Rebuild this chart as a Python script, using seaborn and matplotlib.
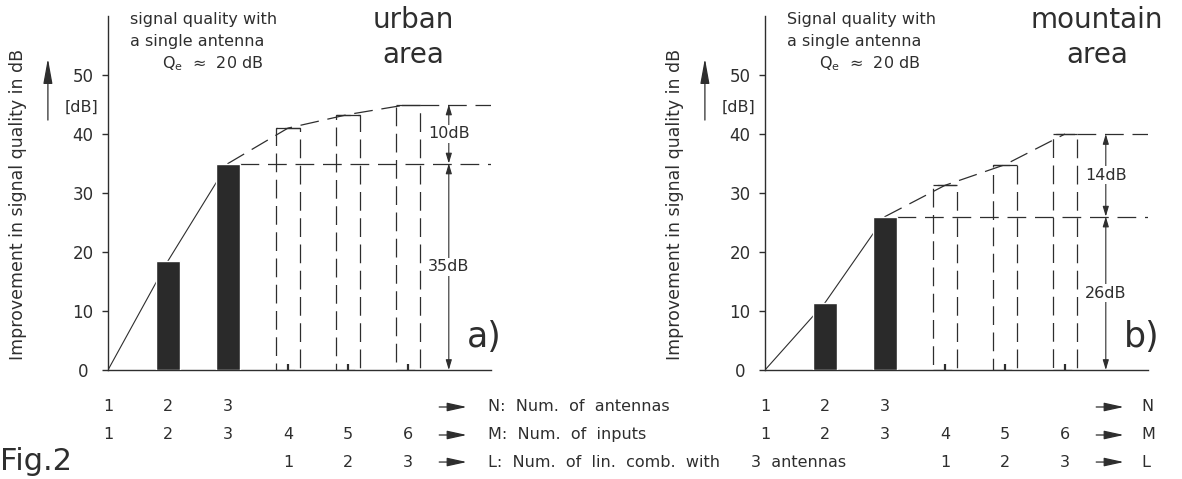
import matplotlib
matplotlib.use("Agg")
import matplotlib.pyplot as plt
import matplotlib.transforms as mtransforms
import numpy as np
import seaborn as sns

# ---------------- data ----------------
n_antennas = [1, 2, 3]            # N: number of antennas
m_inputs = [1, 2, 3, 4, 5, 6]     # M: number of inputs
l_lincomb = [1, 2, 3]             # L: number of linear combinations with 3 antennas
y_ticks = [0, 10, 20, 30, 40, 50]

single_antenna_db = 0.0                 # M = 1 (reference)
urban_antenna_db = [18.5, 35.0]         # M = 2, 3
urban_lincomb_db = [41.0, 43.3, 45.0]   # M = 4, 5, 6
mountain_antenna_db = [11.4, 26.0]      # M = 2, 3
mountain_lincomb_db = [31.3, 34.8, 40.0]  # M = 4, 5, 6

panel_titles = [("urban", "area"), ("mountain", "area")]
panel_tags = ["a)", "b)"]
note_first_line = ["signal quality with", "Signal quality with"]
note_second_line = "a single antenna"
note_third_line = r"Q$_{\rm e}$  ≈  20 dB"
y_label = "Improvement in signal quality in dB"
row_texts = ["N:  Num.  of  antennas", "M:  Num.  of  inputs", "L:  Num.  of  lin.  comb.  with"]
row_letters = ["N", "M", "L"]

# ---------------- style ----------------
INK = "#2e2e2e"
sns.set_theme(style="white")
plt.rcParams["font.family"] = ["DejaVu Sans"]
plt.rcParams["text.color"] = INK
plt.rcParams["axes.edgecolor"] = INK
plt.rcParams["xtick.color"] = INK
plt.rcParams["ytick.color"] = INK
plt.rcParams["axes.labelcolor"] = INK

W, H = 1182, 479
fig = plt.figure(figsize=(W / 100, H / 100), dpi=100)
X_END = 7.38
UNIT = 60.0
BAR_W = 0.4
DIM_X = 6.68
ROW_Y = [-0.1045, -0.1836, -0.260]
FS = 11.5


def make_axes(x0px):
    return fig.add_axes([x0px / W, (H - 370) / H, (X_END - 1) * UNIT / W, 354 / H])


def draw_panel(ax, ant_db, lin_db, idx):
    m_ant = m_inputs[1:3]
    m_lin = m_inputs[3:]
    top_meas = ant_db[-1]
    top_lin = lin_db[-1]

    # solid growth line through the measured values
    sns.lineplot(x=[m_inputs[0]] + m_ant, y=[single_antenna_db] + ant_db, ax=ax,
                 color=INK, lw=0.8, zorder=1)
    # dashed envelope through the linear-combination values
    sns.lineplot(x=[m_ant[-1]] + m_lin, y=[top_meas] + lin_db, ax=ax,
                 color=INK, lw=0.9, linestyle=(0, (15, 7)), zorder=1)

    # filled bars (N antennas)
    sns.barplot(x=m_ant, y=ant_db, native_scale=True, width=BAR_W, color="#2a2a2a",
                saturation=1, errorbar=None, ax=ax, zorder=3)
    # dashed bars (linear combinations)
    sns.barplot(x=m_lin, y=lin_db, native_scale=True, width=BAR_W, fill=False,
                color=INK, errorbar=None, ax=ax, linewidth=0.9,
                linestyle=(0, (15, 6)), zorder=2)
    ax.hlines(lin_db, np.array(m_lin) - BAR_W / 2, np.array(m_lin) + BAR_W / 2,
              color=INK, lw=0.9, zorder=2)

    # horizontal dashed reference levels
    ax.hlines([top_meas], m_ant[-1] + BAR_W / 2, X_END, color=INK, lw=0.9,
              linestyle=(0, (15, 7)), zorder=1)
    ax.hlines([top_lin], m_lin[-1] + BAR_W / 2, X_END, color=INK, lw=0.9,
              linestyle=(0, (15, 7)), zorder=1)

    # dimension arrows
    akw = dict(arrowstyle="<|-|>,head_length=0.5,head_width=0.15", mutation_scale=12,
               lw=0.8, color=INK, shrinkA=0, shrinkB=0)
    ax.annotate("", xy=(DIM_X, 0), xytext=(DIM_X, top_meas), arrowprops=akw)
    ax.annotate("", xy=(DIM_X, top_meas), xytext=(DIM_X, top_lin), arrowprops=akw)
    box = dict(fc="white", ec="none", pad=1.0)
    ax.text(DIM_X, top_meas / 2, f"{top_meas:.0f}dB", ha="center", va="center",
            fontsize=FS, bbox=box, zorder=5)
    ax.text(DIM_X, (top_meas + top_lin) / 2, f"{top_lin - top_meas:.0f}dB", ha="center",
            va="center", fontsize=FS, bbox=box, zorder=5)

    # axes formatting
    ax.set_xlim(1, X_END)
    ax.set_ylim(0, 60)
    ax.set_yticks(y_ticks)
    ax.set_yticklabels([str(t) for t in y_ticks])
    ax.set_xticks(m_lin)
    ax.set_xticklabels([])
    ax.set_xlabel("")
    ax.set_ylabel("")
    ax.tick_params(axis="x", direction="in", length=4, width=1.6, bottom=True)
    ax.tick_params(axis="y", direction="out", length=4, width=1, pad=14,
                   labelsize=12, left=True)
    for lab in ax.get_yticklabels():
        lab.set_ha("center")
    for s in ["top", "right"]:
        ax.spines[s].set_visible(False)
    for s in ["left", "bottom"]:
        ax.spines[s].set_linewidth(1.0)
        ax.spines[s].set_color(INK)

    # y label with arrow and unit
    ax.text(-0.235, 0.4675, y_label, transform=ax.transAxes, rotation=90,
            ha="center", va="center", fontsize=12.5)
    ax.annotate("", xy=(-0.157, 0.88), xytext=(-0.157, 0.706), xycoords="axes fraction",
                textcoords="axes fraction",
                arrowprops=dict(arrowstyle="-|>,head_length=1.1,head_width=0.2",
                                mutation_scale=14, lw=0.9, color=INK,
                                shrinkA=0, shrinkB=0), annotation_clip=False)
    ax.text(-0.068, 0.743, "[dB]", transform=ax.transAxes, ha="center", va="center",
            fontsize=FS)

    # annotations at the top
    ax.text(0.057, 0.989, note_first_line[idx], transform=ax.transAxes, ha="left",
            va="center", fontsize=FS)
    ax.text(0.057, 0.927, note_second_line, transform=ax.transAxes, ha="left",
            va="center", fontsize=FS)
    ax.text(0.14, 0.866, note_third_line, transform=ax.transAxes, ha="left",
            va="center", fontsize=FS)
    cx = [0.797, 0.867][idx]
    ax.text(cx, 0.99, panel_titles[idx][0], transform=ax.transAxes, ha="center",
            va="center", fontsize=20)
    ax.text(cx, 0.89, panel_titles[idx][1], transform=ax.transAxes, ha="center",
            va="center", fontsize=20)
    ax.text(0.984, 0.093, panel_tags[idx], transform=ax.transAxes, ha="center",
            va="center", fontsize=25)

    # rows of numbers under the axis
    trans = mtransforms.blended_transform_factory(ax.transData, ax.transAxes)
    for v in n_antennas:
        ax.text(v, ROW_Y[0], str(v), transform=trans, ha="center", va="center", fontsize=FS)
    for v in m_inputs:
        ax.text(v, ROW_Y[1], str(v), transform=trans, ha="center", va="center", fontsize=FS)
    for v in l_lincomb:
        ax.text(n_antennas[-1] + v, ROW_Y[2], str(v), transform=trans, ha="center",
                va="center", fontsize=FS)
    for ry in ROW_Y:
        ax.annotate("", xy=(6.98, ry), xytext=(6.52, ry), xycoords=trans, textcoords=trans,
                    arrowprops=dict(arrowstyle="-|>,head_length=1.0,head_width=0.22",
                                    mutation_scale=12, lw=0.9, color=INK,
                                    shrinkA=0, shrinkB=0), annotation_clip=False)
    return trans


ax_a = make_axes(108)
ax_b = make_axes(765)
tr_a = draw_panel(ax_a, urban_antenna_db, urban_lincomb_db, 0)
tr_b = draw_panel(ax_b, mountain_antenna_db, mountain_lincomb_db, 1)

for ry, txt, letter in zip(ROW_Y, row_texts, row_letters):
    ax_a.text(7.33, ry, txt, transform=tr_a, ha="left", va="center", fontsize=FS)
    ax_b.text(7.28, ry, letter, transform=tr_b, ha="left", va="center", fontsize=FS)
ax_b.text(0.77, ROW_Y[2], "3  antennas", transform=tr_b, ha="left", va="center", fontsize=FS)

fig.text(0.0, 1 - 461 / H, "Fig.2", ha="left", va="center", fontsize=22)

fig.savefig("out.png", dpi=100, facecolor="white")
